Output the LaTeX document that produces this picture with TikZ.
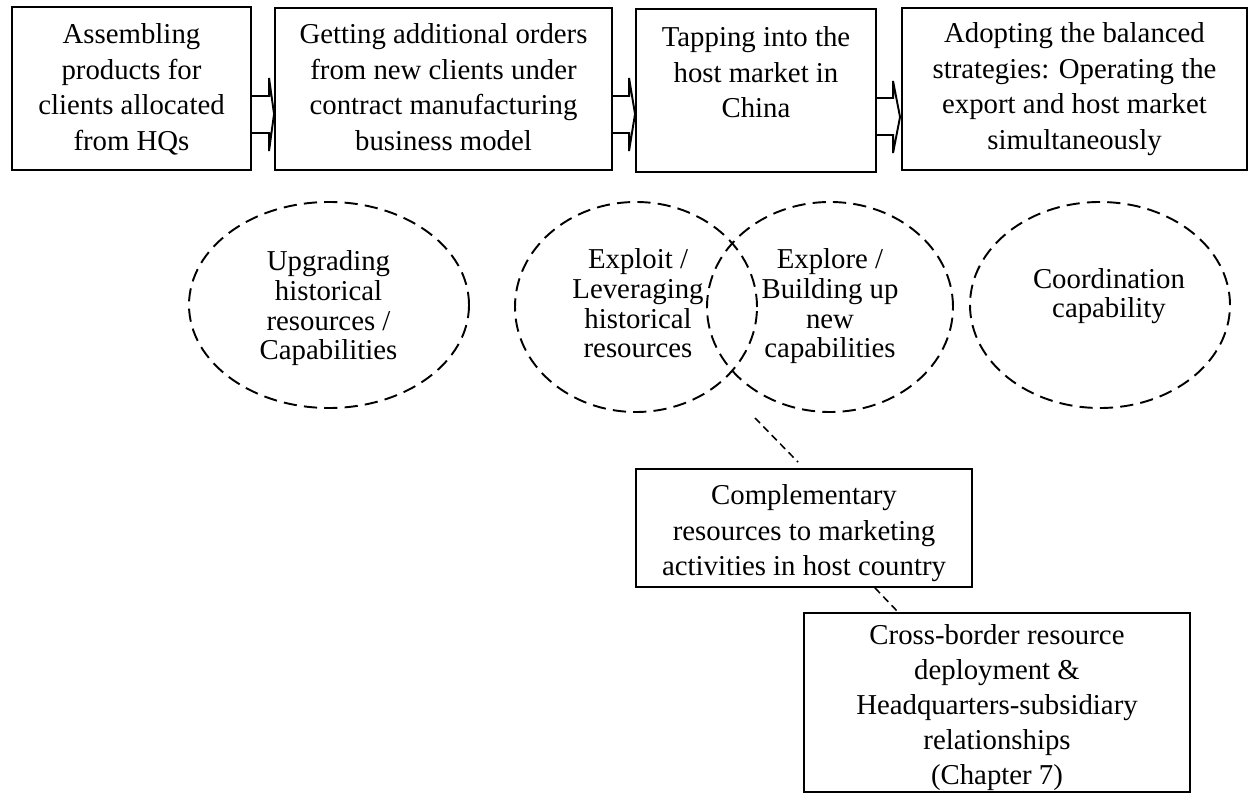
\documentclass[tikz,border=0pt]{standalone}
\usepackage{fontspec}
\setmainfont{Liberation Serif}
\usetikzlibrary{shapes.geometric,calc}
\newcommand\pxu{0.4167pt}
\begin{document}
\begin{tikzpicture}[x=0.4167pt,y=-0.4167pt,
  frame/.style={draw,line width=0.8pt,fill=white,inner sep=0pt},
  boxtext/.style={inner sep=0pt,align=center,anchor=base,
    font=\fontsize{12}{14.8}\selectfont},
  ovaltext/.style={inner sep=0pt,align=center,anchor=base,
    font=\fontsize{12}{12.5}\selectfont},
  oval/.style={ellipse,draw,line width=0.8pt,dash pattern=on 5.5pt off 3pt,inner sep=0pt},
  chevron/.style={draw,line width=0.8pt,line join=miter},
  link/.style={draw,line width=0.65pt,dash pattern=on 3pt off 2pt}]
\useasboundingbox (0,0) rectangle (1253,803);

% stage boxes along the top
\node[frame,minimum width=239*\pxu,minimum height=163*\pxu] (b1) at (131.5,88.5) {};
\node[frame,minimum width=337*\pxu,minimum height=162*\pxu] (b2) at (443.5,89) {};
\node[frame,minimum width=240*\pxu,minimum height=163*\pxu] (b3) at (756,90.5) {};
\node[frame,minimum width=345*\pxu,minimum height=162*\pxu] (b4) at (1074.5,89) {};

% (base anchor = baseline of the last line)
\node[boxtext] (t1) at (131.5,150.5) {Assembling\\products for\\clients allocated\\from HQs};
\node[boxtext] (t2) at (443.5,150.5) {Getting additional orders\\from new clients under\\contract manufacturing\\business model};
\node[boxtext] (t3) at (756,118) {Tapping into the\\host market in\\China};
\node[boxtext] (t4) at (1074.5,149.5) {Adopting the balanced\\strategies: Operating the\\export and host market\\simultaneously};

% block arrows between the stages
\draw[chevron] (b1.east |- 0,96) -| ($(b2.west |- 0,78)+(-5,0)$)
  -- (b2.west |- 0,114) -- ($(b2.west |- 0,151)+(-5,0)$) |- (b1.east |- 0,133);
\draw[chevron] (b2.east |- 0,96) -| ($(b3.west |- 0,78)+(-6,0)$)
  -- (b3.west |- 0,114) -- ($(b3.west |- 0,151)+(-6,0)$) |- (b2.east |- 0,133);
\draw[chevron] (b3.east |- 0,98) -| ($(b4.west |- 0,81)+(-8,0)$)
  -- ($(b4.west |- 0,117)+(-1,0)$) -- ($(b4.west |- 0,153)+(-8,0)$) |- (b3.east |- 0,135);

% capability ovals
\node[oval,minimum width=280*\pxu,minimum height=206*\pxu] (e1) at (329,305) {};
\node[oval,minimum width=242*\pxu,minimum height=210*\pxu] (e2) at (636,307) {};
\node[oval,minimum width=246*\pxu,minimum height=210*\pxu] (e3) at (830,307) {};
\node[oval,minimum width=260*\pxu,minimum height=206*\pxu] (e4) at (1100,305) {};

\node[ovaltext] (et1) at (328.5,360) {Upgrading\\historical\\resources /\\Capabilities};
\node[ovaltext] (et2) at (638,358) {Exploit /\\Leveraging\\historical\\resources};
\node[ovaltext] (et3) at (830,358) {Explore /\\Building up\\new\\capabilities};
\node[ovaltext] (et4) at (1109,318) {Coordination\\capability};

% lower boxes
\node[frame,minimum width=336*\pxu,minimum height=118*\pxu] (b5) at (804,528) {};
\node[boxtext] (t5) at (804,576) {Complementary\\resources to marketing\\activities in host country};

\node[frame,minimum width=386*\pxu,minimum height=179*\pxu] (b6) at (997,702.5) {};
\node[boxtext,font=\fontsize{12}{14.5}\selectfont] (t6) at (997,784) {Cross-border resource\\deployment \&\\Headquarters-subsidiary\\relationships\\(Chapter 7)};

% dotted links
\coordinate (c1) at (755,418);
\draw[link] (c1) -- ($(b5.north)+(-6,-6)$);
\draw[link] ($(b5.south)+(71,0)$) -- ($(b6.north west)+(95,0)$);
\end{tikzpicture}
\end{document}
